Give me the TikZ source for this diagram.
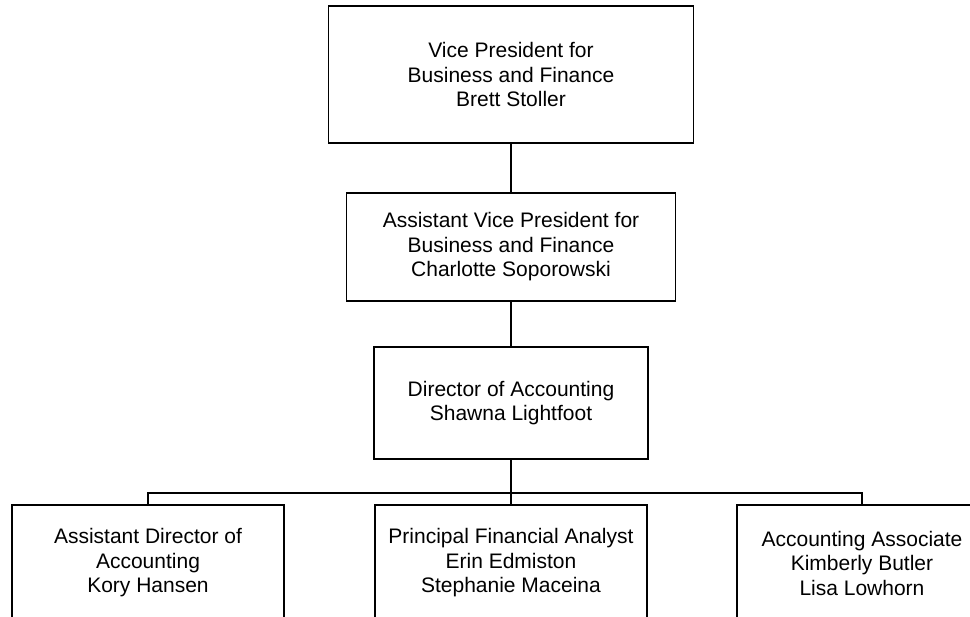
\documentclass[tikz,border=0pt]{standalone}
\usepackage{fontspec}
\setmainfont{Liberation Sans}
\usetikzlibrary{positioning}
\definecolor{ink}{RGB}{0,0,0}

\begin{document}
\begin{tikzpicture}[x=1pt,y=-1pt,
    orgbox/.style={draw=ink,line width=1.5pt,align=center,inner sep=0pt,
      font=\fontsize{21}{24.5}\selectfont},
    link/.style={draw=ink,line width=1.5pt}]
        \useasboundingbox (0,0) rectangle (970,617);
        \clip (0,0) rectangle (970,617);
        % top of the chart
        \node[orgbox,minimum width=365pt,minimum height=137pt] (vp) at (511,74.5)
          {Vice President for\\Business and Finance\\Brett Stoller};
        \node[orgbox,minimum width=329pt,minimum height=108pt] (avp) at (511,247)
          {Assistant Vice President for\\Business and Finance\\Charlotte Soporowski};
        \node[orgbox,minimum width=274pt,minimum height=112pt] (dir) at (511,403)
          {Director of Accounting\\Shawna Lightfoot};
        % staff row, cut by the page edge
        \node[orgbox,minimum width=272pt,minimum height=116pt] (ada) at (148,563)
          {Assistant Director of\\Accounting\\Kory Hansen};
        \node[orgbox,minimum width=272pt,minimum height=116pt] (pfa) at (511,563)
          {Principal Financial Analyst\\Erin Edmiston\\Stephanie Maceina};
        \node[orgbox,minimum width=250pt,minimum height=116pt] (aa) at (862,563)
          {Accounting Associate\\Kimberly Butler\\Lisa Lowhorn};
        \coordinate (bus) at (511,493);
        \draw[link] (vp) -- (avp);
        \draw[link] (avp) -- (dir);
        \draw[link] (dir) -- (bus);
        \foreach \c in {ada,pfa,aa} \draw[link] (bus) -| (\c.north);
      \end{tikzpicture}
\end{document}
